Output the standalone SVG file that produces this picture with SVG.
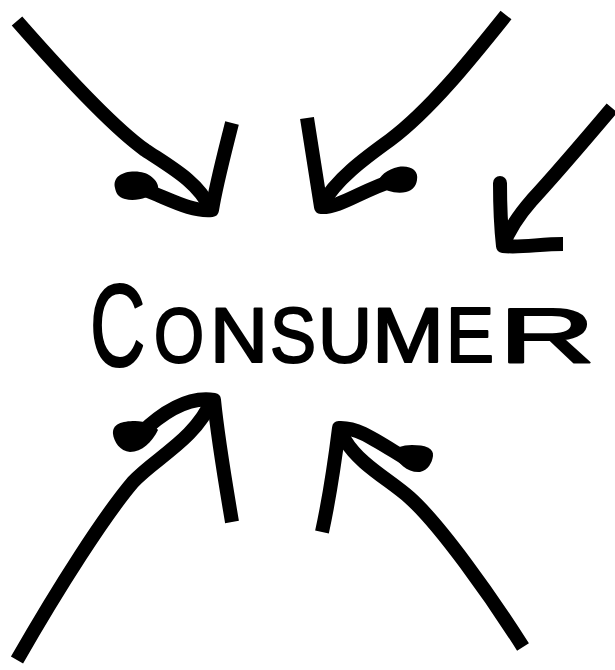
<svg xmlns="http://www.w3.org/2000/svg" width="615" height="670" viewBox="0 0 615 670">
  <style>
    .stk { fill: none; stroke: #000; stroke-width: 14; stroke-linejoin: round; stroke-linecap: butt; }
    .blob { fill: #000; }
    .lbl { font-family: "Liberation Sans", Arial, sans-serif; font-weight: normal; fill: #000; stroke: #000; stroke-width: 2.2; stroke-linejoin: round; }
  </style>
  <rect width="615" height="670" fill="#fff"/>
  <g id="connectors">
    <g id="arrow-top-left">
      <path class="stk" d="M17,21 C60,70 110,125 145,150 C172,168 198,182 210,208"/>
      <path class="stk" d="M232,123 C224,155 216,185 212,210 C190,212 168,198 140,188"/>
      <path class="blob" d="M115,188 C112,176 125,170 140,172 C150,173 160,182 158,190 C150,198 135,202 125,199 C118,197 116,193 115,188 Z"/>
    </g>
    <g id="arrow-top-middle">
      <path class="stk" d="M506,15 C470,60 430,110 390,140 C365,158 335,180 322,205"/>
      <path class="stk" d="M307,118 C312,150 317,180 321,207 C340,208 362,190 395,180"/>
      <path class="blob" d="M417,180 C419,170 410,165 398,167 C388,169 378,176 378,184 C385,192 398,194 406,192 C413,190 416,186 417,180 Z"/>
    </g>
    <g id="arrow-right">
      <path class="stk" d="M612,108 C590,134 555,175 532,200 C518,216 508,232 503,246"/>
      <path class="stk" d="M500,183 C500,205 501,228 503,246 C520,248 540,244 563,244"/>
      <circle class="blob" cx="500" cy="183" r="7"/>
    </g>
    <g id="arrow-bottom-left">
      <path class="stk" d="M17,660 C60,585 105,515 133,482 C155,458 195,440 212,400"/>
      <path class="stk" d="M232,522 C225,480 218,440 214,400 C195,397 170,405 140,434"/>
      <path class="blob" d="M113,434 C112,424 122,421 135,421 C145,421 155,425 158,430 C152,442 142,452 130,452 C120,451 114,442 113,434 Z"/>
    </g>
    <g id="arrow-bottom-right">
      <path class="stk" d="M523,647 C490,595 440,525 410,498 C390,480 360,465 345,440 L340,430"/>
      <path class="stk" d="M322,532 C330,495 335,460 339,428 C358,427 375,440 408,460"/>
      <path class="blob" d="M433,456 C434,448 425,445 412,445 C402,445 395,448 392,452 C398,464 408,473 420,472 C428,470 432,463 433,456 Z"/>
    </g>
  </g>
  <g id="consumer">
    <text class="lbl" transform="translate(90,366) scale(0.66,1)" font-size="116">C</text>
    <text class="lbl" font-size="78" y="362">
      <tspan x="154" textLength="50" lengthAdjust="spacingAndGlyphs">O</tspan><tspan x="210" textLength="58" lengthAdjust="spacingAndGlyphs">N</tspan><tspan x="270" textLength="46" lengthAdjust="spacingAndGlyphs">S</tspan><tspan x="318" textLength="54" lengthAdjust="spacingAndGlyphs">U</tspan><tspan x="372" textLength="72" lengthAdjust="spacingAndGlyphs">M</tspan><tspan x="446" textLength="48" lengthAdjust="spacingAndGlyphs">E</tspan><tspan x="499" textLength="96" lengthAdjust="spacingAndGlyphs">R</tspan>
    </text>
  </g>
</svg>
